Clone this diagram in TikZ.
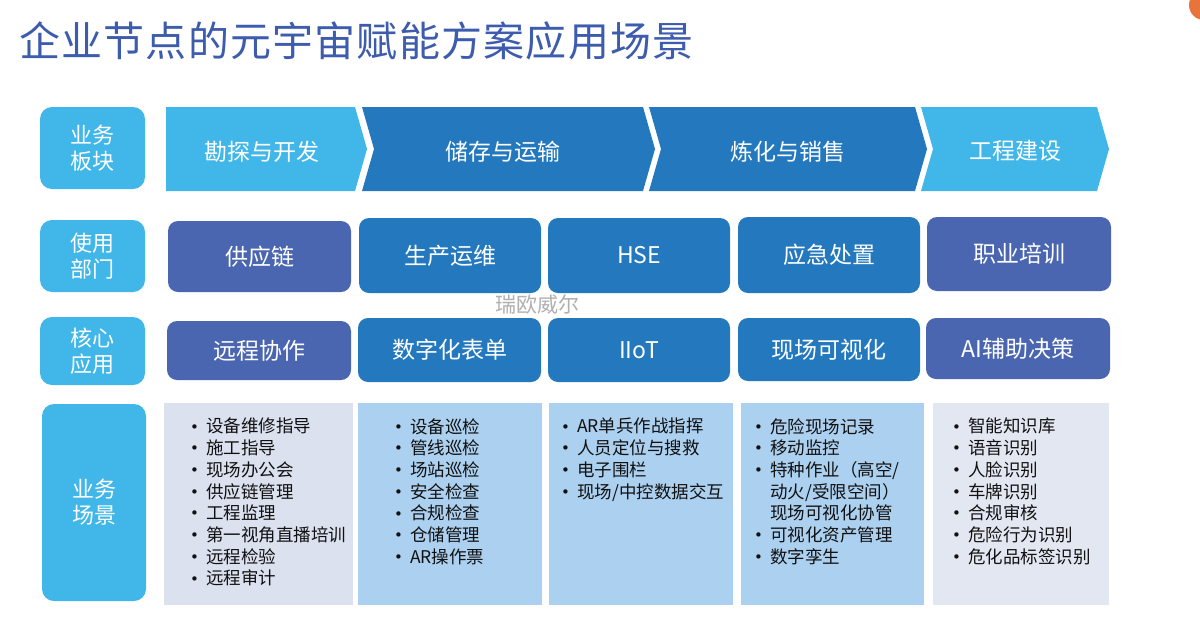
\documentclass[tikz,border=0pt]{standalone}
\usepackage{fontspec}
\setmainfont{Noto Sans CJK SC}
\newfontfamily\bulfont{DejaVu Sans}
\definecolor{lblue}{HTML}{41B7E9}
\definecolor{dblue}{HTML}{2479BE}
\definecolor{purp}{HTML}{4A66B0}
\definecolor{lav}{HTML}{DCE1F0}
\definecolor{lavb}{HTML}{E3E7F2}
\definecolor{pblue}{HTML}{ACD0EF}
\definecolor{ttl}{HTML}{3D5CAE}
\definecolor{wm}{HTML}{B0B0B0}
\definecolor{orng}{HTML}{E8743B}
\definecolor{txt}{HTML}{111111}
\newcommand{\mybul}{\makebox[16pt][l]{\raisebox{0.8pt}{\fontsize{15}{15}\bulfont •}}}
\newcommand{\mygap}{\hspace*{16pt}}
\begin{document}
\begin{tikzpicture}[x=1pt,y=-1pt,
  lab/.style={fill=lblue, rounded corners=12pt, text=white, inner sep=0pt,
    font=\fontsize{22}{26}\selectfont, align=center, minimum width=105pt},
  boxbase/.style={rounded corners=10pt, text=white, inner sep=0pt,
    font=\fontsize{23}{27}\selectfont},
  pbox/.style={boxbase, fill=purp},
  bbox/.style={boxbase, fill=dblue},
  chevtext/.style={text=white, font=\fontsize{23}{27}\selectfont, inner sep=0pt},
  listtext/.style={anchor=north west, inner sep=0pt, align=left, text=txt,
    font=\fontsize{17.5}{21.7}\selectfont}
]
\useasboundingbox (0,0) rectangle (1200,619);
\clip (0,0) rectangle (1200,619);
\fill[white] (0,0) rectangle (1200,619);
% corner mark
\fill[orng] (1204,5) circle (15);

% title
\node[anchor=west, inner sep=0pt, text=ttl, font=\fontsize{41}{45}\selectfont\addfontfeatures{LetterSpace=3}] (title) at (19,41) {企业节点的元宇宙赋能方案应用场景};

% left labels
\node[lab, minimum height=82pt] (l1) at (92.5,148) {业务\\板块};
\node[lab, minimum height=72pt] (l2) at (92.5,256) {使用\\部门};
\node[lab, minimum height=68pt] (l3) at (92.5,351) {核心\\应用};
\node[lab, minimum height=197pt, minimum width=104pt] (l4) at (94,502.5) {业务\\场景};

% chevrons
\fill[lblue] (166,107) -- (355,107) -- (367,149) -- (355,191) -- (166,191) -- cycle;
\fill[dblue] (362,107) -- (643,107) -- (655,149) -- (643,191) -- (362,191) -- (374,149) -- cycle;
\fill[dblue] (649,107) -- (915,107) -- (927,149) -- (915,191) -- (649,191) -- (661,149) -- cycle;
\fill[lblue] (921,107) -- (1097,107) -- (1109,149) -- (1097,191) -- (921,191) -- (933,149) -- cycle;
\node[chevtext] (c1) at (262,152) {勘探与开发};
\node[chevtext] (c2) at (503,152) {储存与运输};
\node[chevtext] (c3) at (788,152) {炼化与销售};
\node[chevtext] (c4) at (1015,151) {工程建设};

% departments
\node[pbox, minimum width=183pt, minimum height=71pt] (d1) at (259.5,256.5) {供应链};
\node[bbox, minimum width=182pt, minimum height=75pt] (d2) at (450,255.5) {生产运维};
\node[bbox, minimum width=182pt, minimum height=75pt] (d3) at (639,255.5) {HSE};
\node[bbox, minimum width=182pt, minimum height=76pt] (d4) at (829,255) {应急处置};
\node[pbox, minimum width=184pt, minimum height=74pt] (d5) at (1019,254) {职业培训};

% watermark
\node[text=wm, inner sep=0pt, font=\fontsize{21}{24}\selectfont] (wmk) at (537,305) {瑞欧威尔};

% core applications
\node[pbox, minimum width=184pt, minimum height=59pt] (a1) at (259,350.5) {远程协作};
\node[bbox, minimum width=183pt, minimum height=64pt] (a2) at (449.5,350) {数字化表单};
\node[bbox, minimum width=182pt, minimum height=64pt] (a3) at (639,350) {IIoT};
\node[bbox, minimum width=182pt, minimum height=63pt] (a4) at (829,349.5) {现场可视化};
\node[pbox, minimum width=184pt, minimum height=61pt] (a5) at (1018,348.5) {AI辅助决策};

% scenario panels
\fill[lav]  (164,403) rectangle (353,605);
\fill[pblue] (358,403) rectangle (542,605);
\fill[pblue] (549,403) rectangle (733,605);
\fill[pblue] (741,403) rectangle (924,605);
\fill[lavb] (933,403) rectangle (1109,605);

\node[listtext] (s1) at (190,418) {\mybul 设备维修指导\\\mybul 施工指导\\\mybul 现场办公会\\\mybul 供应链管理\\\mybul 工程监理\\\mybul 第一视角直播培训\\\mybul 远程检验\\\mybul 远程审计};
\node[listtext] (s2) at (394,418) {\mybul 设备巡检\\\mybul 管线巡检\\\mybul 场站巡检\\\mybul 安全检查\\\mybul 合规检查\\\mybul 仓储管理\\\mybul AR操作票};
\node[listtext] (s3) at (561,418) {\mybul AR单兵作战指挥\\\mybul 人员定位与搜救\\\mybul 电子围栏\\\mybul 现场/中控数据交互};
\node[listtext] (s4) at (754,418) {\mybul 危险现场记录\\\mybul 移动监控\\\mybul 特种作业（高空/\\\mygap 动火/受限空间）\\\mygap 现场可视化协管\\\mybul 可视化资产管理\\\mybul 数字孪生};
\node[listtext] (s5) at (952,418) {\mybul 智能知识库\\\mybul 语音识别\\\mybul 人脸识别\\\mybul 车牌识别\\\mybul 合规审核\\\mybul 危险行为识别\\\mybul 危化品标签识别};
\end{tikzpicture}
\end{document}
